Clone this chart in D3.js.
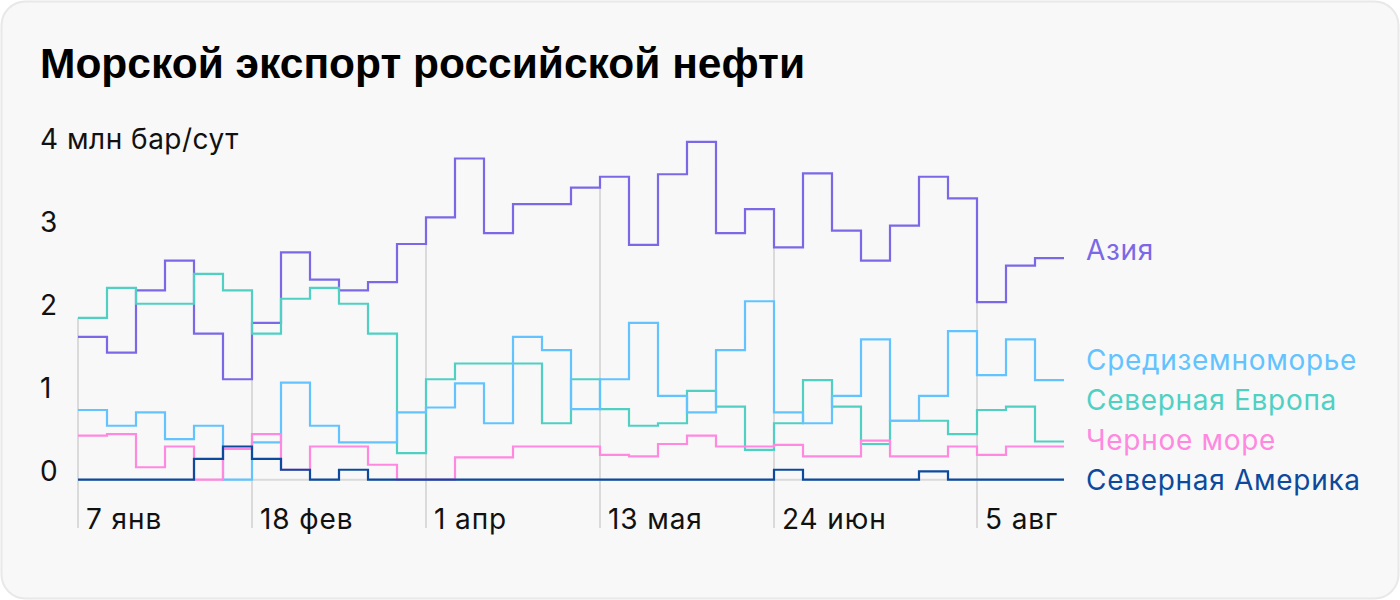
<!DOCTYPE html>
<html>
<head>
<meta charset="utf-8">
<script src="https://cdn.jsdelivr.net/npm/d3@7"></script>
<style>
  html, body { margin: 0; padding: 0; background: #ffffff; }
  svg { display: block; }
</style>
</head>
<body>
<svg id="chart" width="1400" height="600"></svg>
<script>
// ---- data ----
const title = "Морской экспорт российской нефти";
const unitLabel = "млн бар/сут";
const yTicks = [0, 1, 2, 3, 4];
const xTickIndex = [0, 6, 12, 18, 24, 31];
const xTickLabels = ["7 янв", "18 фев", "1 апр", "13 мая", "24 июн", "5 авг"];

const seriesNames = ["Азия", "Северная Европа", "Средиземноморье", "Черное море", "Северная Америка"];
const asia = [1.72,1.53,2.28,2.64,1.76,1.21,1.89,2.74,2.41,2.28,2.38,2.84,3.16,3.87,2.97,3.32,3.32,3.52,3.65,2.83,3.68,4.07,2.97,3.26,2.80,3.69,3.00,2.64,3.06,3.65,3.39,2.14,2.58,2.67];
const northEurope = [1.95,2.31,2.12,2.12,2.48,2.28,1.76,2.18,2.31,2.12,1.76,0.32,1.21,1.40,1.40,1.40,0.68,1.21,0.85,0.65,0.68,1.07,0.88,0.36,0.68,1.20,0.88,0.43,0.71,0.71,0.55,0.84,0.88,0.46];
const mediterranean = [0.84,0.65,0.81,0.49,0.65,0,0.45,1.17,0.65,0.45,0.45,0.81,0.87,1.16,0.68,1.72,1.56,0.85,1.21,1.89,1.01,0.81,1.56,2.15,0.81,0.68,1.01,1.69,0.71,1.01,1.79,1.26,1.69,1.20];
const blackSea = [0.53,0.55,0.15,0.40,0,0.37,0.55,0.12,0.40,0.40,0.18,0,0,0.27,0.27,0.40,0.40,0.40,0.30,0.28,0.43,0.53,0.40,0.40,0.42,0.28,0.28,0.47,0.28,0.28,0.40,0.30,0.40,0.40];
const northAmerica = [0,0,0,0,0.25,0.40,0.25,0.12,0,0.12,0,0,0,0,0,0,0,0,0,0,0,0,0,0,0.12,0,0,0,0,0.10,0,0,0,0];
const seriesColors = ["#7b68e6", "#4fd0c3", "#62c3ff", "#ff88e0", "#0b4a9c"];

// ---- layout ----
const W = 1400, H = 600;
const svg = d3.select("#chart");
const FONT = "Inter, 'Noto Sans', sans-serif";

svg.append("rect")
  .attr("x", 1.5).attr("y", 1.5).attr("width", W - 3).attr("height", H - 3)
  .attr("rx", 24).attr("ry", 24)
  .attr("fill", "#f8f8f8").attr("stroke", "#e8e8e8").attr("stroke-width", 2);

svg.append("text")
  .attr("x", 40).attr("y", 78)
  .attr("font-family", "'Liberation Sans', Arial, sans-serif")
  .attr("font-weight", "bold").attr("font-size", 42.5)
  .attr("fill", "#000").text(title);

const series = [asia, northEurope, mediterranean, blackSea, northAmerica].map((vals, i) => ({
  name: seriesNames[i], values: vals, color: seriesColors[i]
}));
const n = asia.length;

const x = d3.scaleLinear().domain([0, n]).range([78, 1064]);
const y = d3.scaleLinear().domain([0, 4]).range([479.7, 147.7]);

// vertical gridlines (from bottom up to the top line value)
const gridG = svg.append("g");
xTickIndex.forEach((idx, k) => {
  const prev = Math.max(0, idx - 1);
  const top = d3.max(series, s => Math.max(s.values[prev], s.values[idx]));
  gridG.append("line")
    .attr("x1", x(idx)).attr("x2", x(idx))
    .attr("y1", y(top)).attr("y2", 528)
    .attr("stroke", "#dadada").attr("stroke-width", 2);
  gridG.append("text")
    .attr("x", x(idx) + 8).attr("y", 529)
    .attr("font-family", FONT).attr("font-size", 28)
    .attr("letter-spacing", 0.9)
    .attr("fill", "#111").text(xTickLabels[k]);
});

// baseline
svg.append("line")
  .attr("x1", x(0)).attr("x2", x(n))
  .attr("y1", y(0)).attr("y2", y(0))
  .attr("stroke", "#dadada").attr("stroke-width", 2);

// y labels
svg.append("g").selectAll("text").data(yTicks).join("text")
  .attr("x", 40).attr("y", d => y(d) + 1.5)
  .attr("font-family", FONT).attr("font-size", 28)
  .attr("letter-spacing", 0.5)
  .attr("fill", "#111")
  .text(d => d === 4 ? d + " " + unitLabel : d);

// lines (step after)
const line = d3.line()
  .x((d, i) => x(i))
  .y(d => y(d))
  .curve(d3.curveStepAfter);

series.forEach(s => {
  const pts = s.values.concat([s.values[n - 1]]);
  svg.append("path")
    .attr("d", line(pts))
    .attr("fill", "none")
    .attr("stroke", s.color)
    .attr("stroke-width", 2.2)
    .attr("stroke-linejoin", "miter");
});

// end labels with simple collision resolution
const gap = 40;
const maxY = y(0) + 10;
const labels = series.map(s => ({ s, ideal: y(s.values[n - 1]) + 2 }))
  .sort((a, b) => a.ideal - b.ideal);
let clusters = [];
labels.forEach(l => {
  clusters.push({ items: [l], top: l.ideal });
  while (clusters.length > 1) {
    const a = clusters[clusters.length - 2], b = clusters[clusters.length - 1];
    if (a.top + a.items.length * gap > b.top) {
      const items = a.items.concat(b.items);
      const mean = d3.mean(items, d => d.ideal);
      clusters.splice(clusters.length - 2, 2, { items, top: mean - (items.length - 1) * gap / 2 });
    } else break;
  }
});
clusters.forEach(c => {
  const bottom = c.top + (c.items.length - 1) * gap;
  if (bottom > maxY) c.top -= bottom - maxY;
  c.items.forEach((l, i) => { l.pos = c.top + i * gap; });
});
svg.append("g").selectAll("text").data(labels).join("text")
  .attr("x", x(n) + 22).attr("y", d => d.pos)
  .attr("font-family", FONT).attr("font-size", 28)
  .attr("letter-spacing", 0.7)
  .attr("fill", d => d.s.color)
  .text(d => d.s.name);
</script>
</body>
</html>
